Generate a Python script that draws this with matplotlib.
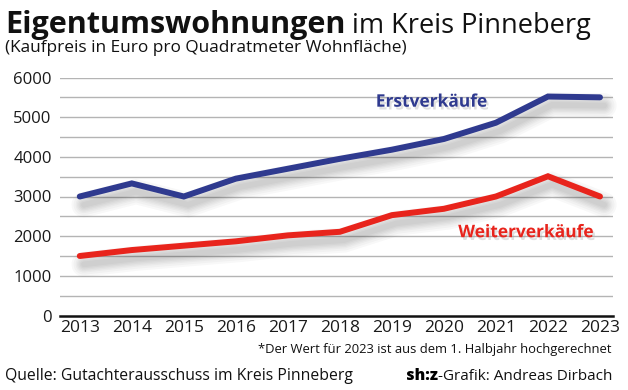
import matplotlib
matplotlib.use("Agg")
import matplotlib.pyplot as plt
import matplotlib.patheffects as pe

plt.rcParams['font.family'] = ['Open Sans', 'DejaVu Sans']

years = [2013, 2014, 2015, 2016, 2017, 2018, 2019, 2020, 2021, 2022, 2023]
erstverkaeufe = [3000, 3330, 3000, 3450, 3700, 3950, 4180, 4450, 4860, 5520, 5500]
weiterverkaeufe = [1500, 1650, 1760, 1870, 2020, 2110, 2530, 2690, 3000, 3510, 3000]
yticks = [0, 1000, 2000, 3000, 4000, 5000, 6000]

navy = "#2f3a8f"
red = "#e8241c"

fig = plt.figure(figsize=(6.28, 3.9), dpi=100)
ax = fig.add_axes([60 / 628, 1 - 315.5 / 390, 553 / 628, 238 / 390])

# Gitterlinien alle 500
for v in range(500, 6001, 500):
    ax.axhline(v, color="#b4b4b4", lw=1.0, zorder=1)

def shadow_fx():
    # weicher Schatten: viele schwache Lagen übereinander
    fx = []
    for w in [18, 15, 12, 10, 8, 6, 4]:
        fx.append(pe.SimpleLineShadow(offset=(3, -6), shadow_color="#000000",
                                      alpha=0.028, linewidth=w))
    fx.append(pe.Normal())
    return fx

ax.plot(years, erstverkaeufe, color=navy, lw=4.3, solid_capstyle="round",
        solid_joinstyle="miter", zorder=3, clip_on=False, path_effects=shadow_fx())
ax.plot(years, weiterverkaeufe, color=red, lw=4.3, solid_capstyle="round",
        solid_joinstyle="miter", zorder=3, clip_on=False, path_effects=shadow_fx())

ax.set_xlim(2012.62, 2023.25)
ax.set_ylim(0, 6000)
ax.set_xticks(years)
ax.set_xticklabels([str(y) for y in years], fontsize=12.5)
ax.set_yticks(yticks)
ax.set_yticklabels([str(v) for v in yticks], fontsize=12)
ax.tick_params(axis="both", length=0, colors="#1a1a1a")
ax.tick_params(axis="x", pad=3)
ax.tick_params(axis="y", pad=6)
for s in ["top", "right", "left"]:
    ax.spines[s].set_visible(False)
ax.spines["bottom"].set_linewidth(1.8)
ax.spines["bottom"].set_color("#111111")
ax.spines["bottom"].set_zorder(4)

txt_fx = [pe.SimplePatchShadow(offset=(1.5, -2), shadow_rgbFace="#999999", alpha=0.3), pe.Normal()]
ax.text(2018.69, 5390, "Erstverkäufe", color=navy, fontsize=12.5, fontweight="bold",
        va="center", ha="left", path_effects=txt_fx)
ax.text(2022.88, 2100, "Weiterverkäufe", color=red, fontsize=12.5, fontweight="bold",
        va="center", ha="right", path_effects=txt_fx)

# Titel
t1 = fig.text(5 / 628, 1 - 33 / 390, "Eigentumswohnungen", fontsize=22, fontweight="bold",
              color="#111111", ha="left", va="baseline")
fig.canvas.draw()
bb = t1.get_window_extent()
fig.text((bb.x1 + 7) / 628, 1 - 33 / 390, "im Kreis Pinneberg", fontsize=19.5,
         color="#111111", ha="left", va="baseline")
fig.text(5 / 628, 1 - 47.5 / 390, "(Kaufpreis in Euro pro Quadratmeter Wohnfläche)",
         fontsize=12.4, color="#111111", ha="left", va="center")

fig.text(612 / 628, 1 - 349 / 390, "*Der Wert für 2023 ist aus dem 1. Halbjahr hochgerechnet",
         fontsize=9.4, color="#111111", ha="right", va="center")
fig.text(5 / 628, 1 - 376 / 390, "Quelle: Gutachterausschuss im Kreis Pinneberg",
         fontsize=11.3, color="#111111", ha="left", va="center")
t2 = fig.text(612 / 628, 1 - 376 / 390, "-Grafik: Andreas Dirbach",
              fontsize=11, color="#111111", ha="right", va="center")
fig.canvas.draw()
bb2 = t2.get_window_extent()
fig.text(bb2.x0 / 628, 1 - 376 / 390, "sh:z", fontsize=11.5, fontweight="heavy",
         color="#000000", ha="right", va="center")

fig.savefig("out.png", dpi=100)
